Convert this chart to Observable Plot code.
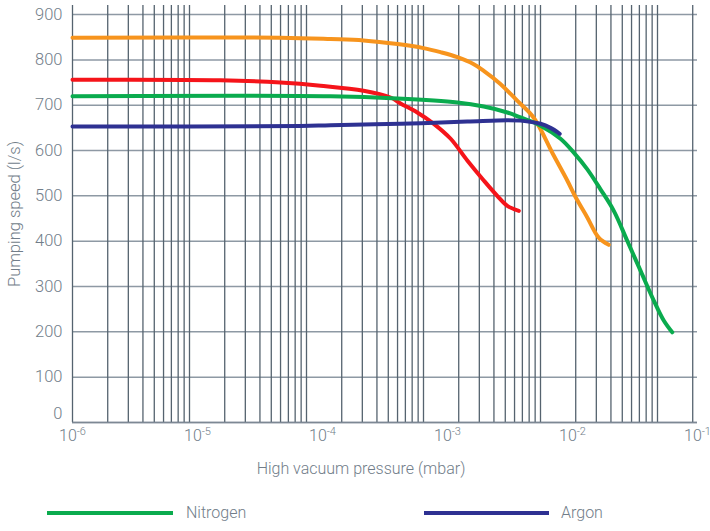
<!DOCTYPE html>
<html>
<head>
<meta charset="utf-8">
<script src="https://cdn.jsdelivr.net/npm/d3@7"></script>
<script src="https://cdn.jsdelivr.net/npm/@observablehq/plot@0.6"></script>
<style>
  body { margin: 0; background: #fff; }
  #wrap { position: relative; width: 710px; height: 531px; font-family: Roboto, "Liberation Sans", sans-serif; font-weight: 300; color: #717d89; }
  #xtitle { position: absolute; left: 0; width: 722px; top: 459px; text-align: center; font-size: 16px; line-height: 20px; }
  .lg-line { position: absolute; height: 4px; top: 511px; }
  .lg-text { position: absolute; top: 503px; font-size: 16px; line-height: 20px; }
</style>
</head>
<body>
<div id="wrap">
  <div id="chart"></div>
  <div id="xtitle">High vacuum pressure (mbar)</div>
  <div id="legend"></div>
</div>
<script>
// ---- data ----
const nitrogenPressure = [1e-6, 1.16e-4, 3.98e-4, 1.2e-3, 1.95e-3, 3.01e-3, 3.84e-3, 5.55e-3, 8.02e-3, 1.02e-2, 1.31e-2, 1.67e-2, 2.14e-2, 2.74e-2, 3.5e-2, 4.47e-2, 5.37e-2, 6.28e-2];
const nitrogenSpeed    = [720, 720, 715, 706, 697, 684, 673, 655, 626, 596, 559, 515, 467, 401, 335, 269, 225, 199];

const argonPressure = [1e-6, 6.67e-5, 1.16e-4, 4.21e-4, 1.44e-3, 3.0e-3, 3.84e-3, 5.55e-3, 6.67e-3, 7.9e-3];
const argonSpeed    = [653, 654, 656, 659, 664, 667, 666, 659, 650, 637];

const orangePressure = [1e-6, 4.61e-5, 1.16e-4, 2.13e-4, 3.98e-4, 6.43e-4, 8.79e-4, 1.2e-3, 1.61e-3, 1.95e-3, 2.65e-3, 3.61e-3, 4.88e-3, 7.08e-3, 9.08e-3, 1.06e-2, 1.31e-2, 1.62e-2, 1.95e-2];
const orangeSpeed    = [849, 849, 846, 843, 835, 826, 817, 806, 791, 776, 747, 710, 673, 589, 534, 497, 453, 408, 392];

const redPressure = [1e-6, 1.53e-5, 4.61e-5, 9.64e-5, 2.13e-4, 3.5e-4, 4.21e-4, 5.73e-4, 7.77e-4, 1.06e-3, 1.44e-3, 1.95e-3, 2.5e-3, 3.01e-3, 3.72e-3];
const redSpeed    = [756, 755, 750, 743, 732, 717, 704, 684, 659, 626, 578, 534, 500, 478, 467];

const seriesNames  = ["Orange curve", "Red curve", "Nitrogen", "Argon"];
const seriesColors = ["#f7941d", "#f5141a", "#0aab4e", "#2e3192"];
const legendNames  = ["Nitrogen", "Argon"];

const xTickValues = [1e-6, 1e-5, 1e-4, 1e-3, 1e-2, 1e-1];
const yTickValues = [0, 100, 200, 300, 400, 500, 600, 700, 800, 900];

// grid of the original drawing: 1..9 per decade, drawn slightly compressed (117px/decade vs 125px label spacing)
const gridMultipliers = [1, 2, 3, 4, 5, 6, 7, 8, 9];
const gridDecades = 5;
const gridExtra = [1, 2];
const gridCompression = 117 / 125;

// ---- build tables ----
const rows = [];
[[orangePressure, orangeSpeed], [redPressure, redSpeed], [nitrogenPressure, nitrogenSpeed], [argonPressure, argonSpeed]]
  .forEach(([p, s], i) => p.forEach((v, j) => rows.push({series: seriesNames[i], pressure: v, speed: s[j]})));

const gridX = [];
for (let d = 0; d < gridDecades; d++) for (const m of gridMultipliers) gridX.push(Math.pow(10, -6 + gridCompression * (d + Math.log10(m))));
for (const m of gridExtra) gridX.push(Math.pow(10, -6 + gridCompression * (gridDecades + Math.log10(m))));

const expOf = d => Math.round(Math.log10(d));
const fmt = d => "10^" + expOf(d);

const chart = Plot.plot({
  width: 710,
  height: 448,
  marginLeft: 72,
  marginRight: 13,
  marginTop: 5,
  marginBottom: 26,
  style: {fontFamily: "Roboto, 'Liberation Sans', sans-serif", fontWeight: 300, color: "#717d89", background: "white", overflow: "visible"},
  x: {type: "log", domain: [1e-6, 1e-1]},
  y: {domain: [0, 920]},
  color: {domain: seriesNames, range: seriesColors},
  marks: [
    Plot.ruleY(yTickValues, {stroke: "#8e99a4", strokeWidth: 1.5}),
    Plot.ruleX(gridX, {stroke: "#55636f", strokeWidth: 1.3}),
    Plot.ruleY([0], {stroke: "#7d8894", strokeWidth: 1.5}),
    Plot.axisY(yTickValues.filter(v => v > 0), {tickSize: 0, tickPadding: 10, fontSize: 16.5, label: "Pumping speed (l/s)", labelAnchor: "center", labelOffset: 64, labelArrow: "none"}),
    Plot.axisY(yTickValues.filter(v => v === 0), {tickSize: 0, tickPadding: 10, fontSize: 16.5, dy: -9, label: null}),
    Plot.axisX(xTickValues, {tickSize: 0, tickPadding: 7, fontSize: 16, tickFormat: fmt, label: null}),
    Plot.line(rows, {x: "pressure", y: "speed", z: "series", stroke: "series", strokeWidth: 4, curve: "catmull-rom"})
  ]
});
// render exponents as real superscripts
chart.querySelectorAll('g[aria-label="x-axis tick label"] text').forEach(t => {
  const m = /^10\^(-?\d+)$/.exec(t.textContent.trim());
  if (!m) return;
  t.textContent = "10";
  const s = document.createElementNS("http://www.w3.org/2000/svg", "tspan");
  s.setAttribute("dy", "-6");
  s.setAttribute("font-size", "11");
  s.textContent = m[1].replace("-", "\u2011");
  t.appendChild(s);
});
chart.querySelectorAll("text").forEach(t => t.style.fill = "#717d89");
document.getElementById("chart").appendChild(chart);

// legend (below the chart)
const legendPos = [{line: 47, w: 126, text: 186}, {line: 424, w: 125, text: 561}];
const lg = document.getElementById("legend");
legendNames.forEach((name, i) => {
  const color = seriesColors[seriesNames.indexOf(name)];
  const l = document.createElement("div");
  l.className = "lg-line";
  l.style.left = legendPos[i].line + "px";
  l.style.width = legendPos[i].w + "px";
  l.style.background = color;
  lg.appendChild(l);
  const t = document.createElement("div");
  t.className = "lg-text";
  t.style.left = legendPos[i].text + "px";
  t.textContent = name;
  lg.appendChild(t);
});
</script>
</body>
</html>
